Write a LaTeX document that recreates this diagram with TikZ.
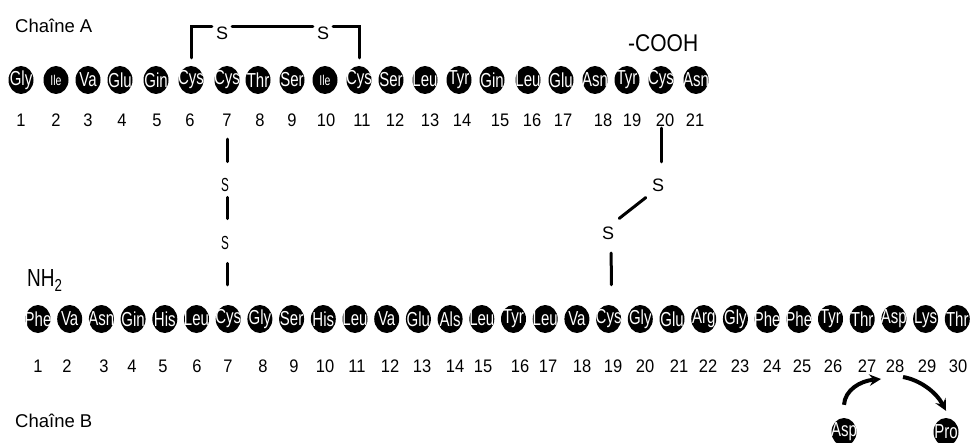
\documentclass[tikz,border=0pt]{standalone}
\usepackage{fontspec}
\setmainfont{Liberation Sans}
\usepackage{tikz}
\usetikzlibrary{arrows}
\usetikzlibrary{shapes.geometric}
\usetikzlibrary{positioning}

\newcommand{\aafont}[1]{\makebox[0pt]{\scalebox{1}[1.35]{#1}}}
\newcommand{\smallaa}[1]{{\fontsize{10.5}{10.5}\selectfont #1}}

\begin{document}
\begin{tikzpicture}[
    x = 1pt, y = -1pt,
    bond/.style = {line width=3pt, line cap=round},
    mut/.style = {->, >=stealth, line width=4pt}]
    \useasboundingbox (0,0) rectangle (973,443);
    \tikzstyle{residue}=[ellipse,fill=black,text=white,inner sep=0pt,
      minimum width=25pt,minimum height=28pt,font=\fontsize{15}{15}\selectfont]
    \tikzstyle{num}=[anchor=base,inner sep=0pt,font=\fontsize{16.5}{16.5}\selectfont]
    \tikzstyle{sulf}=[inner sep=0pt,font=\fontsize{18}{18}\selectfont]
    \tikzstyle{title}=[anchor=base west,inner sep=0pt]

    % chaine A
    \node[title,font=\fontsize{18.5}{18.5}\selectfont] (titleA) at (15,33) {Chaîne A};
    \node[title,font=\fontsize{21}{21}\selectfont] (cooh) at (628,52) {\scalebox{1}[1.15]{-COOH}};
    \foreach \x/\t [count=\n] in {21/Gly, 56/\smallaa{Ile}, 88/Va, 120/Glu, 156/Gin,
        191/Cys, 227/Cys, 258/Thr, 292/Ser, 325/\smallaa{Ile}, 359/Cys, 391/Ser,
        425/Leu, 459/Tyr, 492/Gin, 528/Leu, 561/Glu, 595/Asn, 627/Tyr, 661/Cys, 696/Asn}
      \node[residue] (a\n) at (\x,80) {\aafont{\t}};
    \foreach \x [count=\n] in {21,56,88,122,157,190,227,260,292,326,362,395,430,
        462,500,532,563,603,632,665,695}
      \node[num] (na\n) at (\x,127) {\scalebox{1}[1.1]{\n}};

    % chaine B
    \node[title,font=\fontsize{19}{19}\selectfont] (nh2) at (27,287) {\scalebox{1}[1.3]{NH\textsubscript{2}}};
    \node[title,font=\fontsize{18.5}{18.5}\selectfont] (titleB) at (15,427) {Chaîne B};
    \foreach \t [count=\n] in {Phe,Va,Asn,Gin,His,Leu,Cys,Gly,Ser,His,Leu,Va,Glu,
        Als,Leu,Tyr,Leu,Va,Cys,Gly,Glu,Arg,Gly,Phe,Phe,Tyr,Thr,Asp,Lys,Thr}
      \node[residue] (b\n) at ({38+31.7*(\n-1)},319) {\aafont{\t}};
    \foreach \x [count=\n] in {38,67,104,132,163,197,228,263,294,325,357,390,422,
        455,483,520,548,582,613,645,679,708,740,772,802,833,867,895,927,958}
      \node[num] (nb\n) at (\x,372) {\scalebox{1}[1.1]{\n}};

    % ponts disulfure
    \node[sulf,anchor=north] (s1) at (222,27) {S};
    \node[sulf,anchor=north] (s2) at (323,27) {S};
    \draw[bond] ([yshift=8pt]a6.north) |- ([xshift=-4pt]s1.north west);
    \draw[bond] ([xshift=4pt]s1.north east) -- ([xshift=-4pt]s2.north west);
    \draw[bond] ([xshift=4pt]s2.north east) -| ([yshift=8pt]a11.north);

    \node[sulf] (sv1) at (225,185) {\scalebox{0.65}[1.05]{S}};
    \node[sulf] (sv2) at (225,243) {\scalebox{0.65}[1.05]{S}};
    \draw[bond,shorten <=45pt,shorten >=16.5pt] (a7.south) -- (sv1.north -| a7);
    \draw[bond,shorten <=5.5pt,shorten >=17.5pt] (sv1.south -| a7) -- (sv2.north -| a7);
    \draw[bond,shorten <=13.5pt,shorten >=20pt] (sv2.south -| a7) -- (b7.north -| a7);

    \node[sulf] (sr1) at (658,185) {S};
    \node[sulf] (sr2) at (608,233) {S};
    \draw[bond,shorten <=34pt,shorten >=16.5pt] (a20.south) -- ([xshift=3pt]sr1.north);
    \draw[bond] ([xshift=-6pt,yshift=-6pt]sr1.south west) -- ([xshift=5pt,yshift=8pt]sr2.north east);
    \draw[bond,shorten <=13.5pt,shorten >=20pt] ([xshift=3pt]sr2.south) -- ([xshift=3pt]b19.north);

    % mutation en 28
    \node[residue] (asp) at (844,432) {\aafont{Asp}};
    \node[residue] (pro) at (946,432) {\aafont{Pro}};
    \coordinate (in28) at (881,379);
    \coordinate (out28) at (903,377);
    \draw[mut] ([yshift=13pt]asp.north) .. controls (845,390) and (860,381) .. (in28);
    \draw[mut] (out28) .. controls (920,380) and (936,392) .. ([yshift=7pt]pro.north);
\end{tikzpicture}
\end{document}
